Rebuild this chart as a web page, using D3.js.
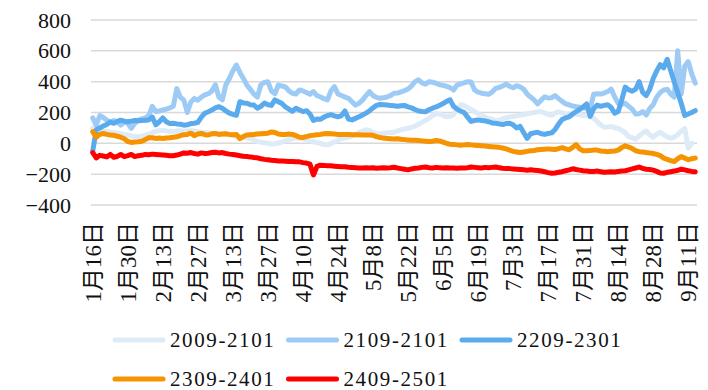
<!DOCTYPE html>
<html>
<head>
<meta charset="utf-8">
<script src="https://cdn.jsdelivr.net/npm/d3@7"></script>
<style>
  body { margin: 0; background: #fff; }
  svg { display: block; }
  text { font-family: "Liberation Serif", "Times New Roman", "Noto Sans CJK SC", serif; fill: #111; }
</style>
</head>
<body>
<svg id="chart" width="708" height="390"></svg>
<script>
// Trading days (weekdays) from 1月16日 to 9月13日
const dayList = d3.utcDays(new Date(Date.UTC(2023, 0, 16)), new Date(Date.UTC(2023, 8, 14)))
  .filter(d => d.getUTCDay() % 6 !== 0);
const categories = dayList.map(d => `${d.getUTCMonth() + 1}月${d.getUTCDate()}日`);

const tickLabels = ["1月16日","1月30日","2月13日","2月27日","3月13日","3月27日","4月10日","4月24日",
  "5月8日","5月22日","6月5日","6月19日","7月3日","7月17日","7月31日","8月14日","8月28日","9月11日"];
const yTicks = [-400, -200, 0, 200, 400, 600, 800];

const seriesNames = ["2009-2101", "2109-2101", "2209-2301", "2309-2401", "2409-2501"];
const seriesColors = ["#DDEBF8", "#9DCBF5", "#5AAAEE", "#F59300", "#FF0000"];

const s2009 = [100,90,86,80,76,72,70,66,62,58,
  54,48,44,42,46,52,60,70,78,82,
  84,80,78,76,80,82,78,80,82,80,
  76,72,70,68,66,64,62,60,58,56,
  52,48,44,40,36,30,22,12,8,4,
  0,-4,-2,2,8,16,24,30,38,34,
  30,24,16,10,4,0,-8,-10,-2,10,
  20,30,36,40,48,58,70,80,88,84,
  70,64,62,66,68,70,72,80,88,94,
  98,104,112,124,136,150,162,180,194,190,
  180,172,176,186,220,250,244,232,220,206,
  190,180,170,162,156,146,150,160,166,172,
  174,178,182,186,192,196,200,204,206,198,
  188,182,196,204,198,192,190,192,188,184,
  180,182,176,162,140,120,104,106,110,102,
  96,84,70,44,36,26,48,66,80,56,
  40,60,72,56,42,34,40,56,80,96,
  -30,0,null];

const s2109 = [165,118,180,168,150,140,148,140,118,138,
  130,98,130,150,158,165,180,240,206,210,
  216,222,230,240,355,300,280,200,268,290,
  280,300,314,322,340,380,300,282,380,420,
  470,508,460,420,378,350,320,300,380,395,
  400,340,322,378,372,366,340,325,320,346,
  340,330,318,336,310,300,290,282,340,368,
  320,310,300,292,270,248,260,280,310,336,
  310,298,292,296,300,310,325,326,334,342,
  352,372,400,412,392,384,400,396,390,380,
  376,370,362,346,378,386,392,400,398,346,
  332,325,322,318,332,356,362,372,384,370,
  360,374,366,352,320,300,282,256,280,302,
  294,296,310,290,272,256,250,242,238,234,
  230,226,222,318,322,320,326,336,352,300,
  260,254,260,240,222,190,192,206,184,226,
  250,300,330,346,350,320,300,600,320,500,
  530,450,390];

const s2209 = [-50,88,100,112,122,138,130,142,150,144,
  140,144,148,146,148,150,152,170,120,140,
  165,140,128,130,126,124,118,120,128,130,
  136,170,195,205,216,230,238,228,210,196,
  188,182,270,262,260,250,248,228,240,262,
  250,246,282,270,258,236,222,208,228,216,
  206,212,190,148,158,156,170,180,186,178,
  172,180,210,158,152,162,172,184,196,210,
  230,246,252,250,248,246,244,240,244,246,
  236,230,220,210,206,205,218,228,236,246,
  258,272,282,240,222,210,200,170,142,148,
  152,148,146,140,132,130,126,122,128,130,
  120,100,110,70,32,62,68,72,62,58,
  64,68,90,125,155,165,172,190,206,220,
  236,255,175,225,248,240,246,250,232,196,
  206,280,365,348,338,352,400,330,310,350,
  420,470,510,490,545,470,400,330,260,180,
  190,200,212];

const s2309 = [76,40,58,64,58,54,52,46,40,30,
  12,6,8,10,14,24,36,36,32,34,
  32,34,36,40,42,50,56,58,66,50,
  60,64,56,54,62,64,58,60,62,58,
  56,58,30,44,54,56,58,60,62,64,
  66,74,70,60,58,58,60,58,50,40,
  38,44,50,52,56,58,62,64,62,60,
  58,58,58,57,56,56,55,54,54,54,
  52,44,38,34,32,30,28,30,26,24,
  22,20,20,18,16,14,12,14,18,16,
  8,0,-6,-8,-10,-12,-10,-8,-10,-12,
  -14,-16,-18,-20,-22,-24,-26,-30,-36,-44,
  -52,-56,-60,-56,-52,-48,-46,-42,-40,-38,
  -36,-38,-40,-34,-28,-36,-42,-26,-8,-36,
  -48,-48,-46,-44,-44,-50,-52,-54,-52,-50,
  -44,-28,-16,-24,-34,-48,-54,-56,-60,-62,
  -66,-72,-80,-96,-104,-112,-118,-100,-86,-96,
  -106,-100,-96];

const s2409 = [-60,-95,-78,-82,-88,-72,-90,-85,-72,-86,
  -80,-72,-86,-80,-78,-72,-74,-70,-72,-74,
  -76,-78,-80,-80,-76,-70,-62,-64,-60,-66,
  -70,-62,-66,-64,-60,-58,-62,-60,-66,-70,
  -72,-76,-80,-84,-86,-88,-92,-94,-100,-104,
  -106,-110,-112,-114,-115,-116,-118,-118,-120,-120,
  -125,-128,-135,-205,-150,-142,-143,-145,-146,-148,
  -150,-152,-152,-155,-156,-158,-160,-160,-158,-160,
  -158,-162,-160,-158,-160,-158,-155,-160,-164,-168,
  -172,-166,-162,-160,-156,-154,-158,-160,-156,-158,
  -160,-158,-160,-160,-162,-160,-160,-158,-154,-156,
  -158,-160,-156,-158,-156,-154,-158,-162,-164,-164,
  -166,-168,-170,-172,-174,-172,-174,-176,-180,-184,
  -190,-194,-192,-188,-184,-178,-172,-165,-170,-174,
  -178,-180,-182,-182,-180,-184,-188,-186,-184,-186,
  -182,-180,-178,-172,-166,-160,-154,-162,-168,-170,
  -174,-182,-192,-194,-188,-184,-180,-175,-168,-172,
  -178,-182,-184];

const seriesValues = [s2009, s2109, s2209, s2309, s2409];

const svg = d3.select("#chart");
const plot = { left: 91, right: 697, top: 20, bottom: 205 };

const x = d3.scaleBand().domain(categories).range([plot.left, plot.right]).padding(0);
const y = d3.scaleLinear().domain([-400, 800]).range([plot.bottom, plot.top]);
const cx = c => x(c) + x.bandwidth() / 2;

// horizontal gridlines
svg.append("g").selectAll("line").data(yTicks).join("line")
  .attr("x1", plot.left).attr("x2", plot.right)
  .attr("y1", d => y(d)).attr("y2", d => y(d))
  .attr("stroke", "#D9D9D9").attr("stroke-width", 1.5);

// y axis labels
const yAxis = svg.append("g").attr("transform", `translate(${plot.left},0)`)
  .call(d3.axisLeft(y).tickValues(yTicks).tickSize(0).tickPadding(20));
yAxis.select(".domain").remove();
yAxis.selectAll("text").style("font-size", "22px")
  .style("font-family", "'Liberation Serif', serif").attr("fill", "#111");

// x axis labels, rotated
const xAxis = svg.append("g").attr("transform", `translate(0,214)`)
  .call(d3.axisBottom(x).tickValues(tickLabels).tickSize(0));
xAxis.select(".domain").remove();
xAxis.selectAll("text")
  .attr("transform", "rotate(-90)")
  .attr("text-anchor", "end")
  .attr("x", -8).attr("y", 0).attr("dy", "0.35em")
  .style("font-size", "23px")
  .style("font-family", "'Liberation Serif', 'Noto Sans CJK SC', serif")
  .attr("fill", "#111");

// series lines
const line = d3.line()
  .defined(d => d.v !== null)
  .x(d => cx(d.c))
  .y(d => y(d.v));

seriesValues.forEach((vals, k) => {
  const pts = categories.map((c, i) => ({ c, v: vals[i] === undefined ? null : vals[i] }));
  svg.append("path")
    .datum(pts)
    .attr("d", line)
    .attr("fill", "none")
    .attr("stroke", seriesColors[k])
    .attr("stroke-width", 5)
    .attr("stroke-linejoin", "round")
    .attr("stroke-linecap", "round");
});

// legend
const legend = svg.append("g");
seriesNames.forEach((name, k) => {
  const col = k % 3, row = Math.floor(k / 3);
  const lx = 115 + col * 173.5, ly = 340 + row * 39;
  legend.append("line")
    .attr("x1", lx).attr("x2", lx + 48)
    .attr("y1", ly).attr("y2", ly)
    .attr("stroke", seriesColors[k]).attr("stroke-width", 5)
    .attr("stroke-linecap", "round");
  legend.append("text")
    .attr("x", lx + 55).attr("y", ly).attr("dy", "0.33em")
    .style("font-size", "21px")
    .style("letter-spacing", "1.6px")
    .text(name);
});
</script>
</body>
</html>
